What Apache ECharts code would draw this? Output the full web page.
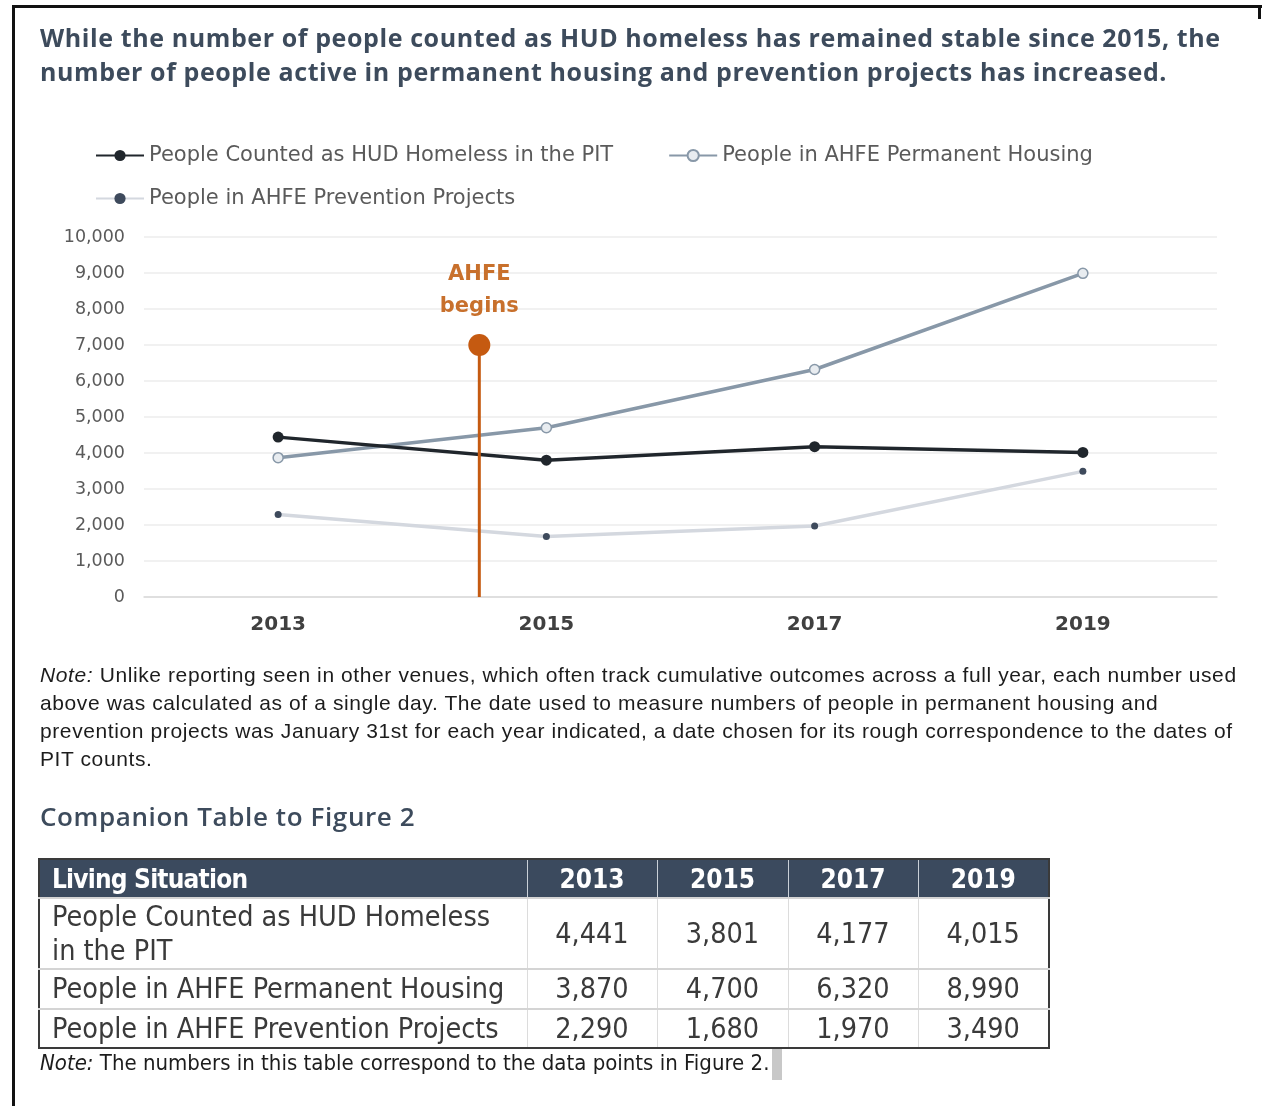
<!DOCTYPE html>
<html>
<head>
<meta charset="utf-8">
<script src="https://cdn.jsdelivr.net/npm/echarts@6/dist/echarts.min.js"></script>
<style>
  html, body { margin: 0; padding: 0; background: #ffffff; }
  #page { position: relative; width: 1262px; height: 1106px; overflow: hidden; }
  #chart { position: absolute; left: 0; top: 0; width: 1262px; height: 1106px; }
  .frame-top { position: absolute; left: 12px; top: 5px; width: 1250px; height: 3px; background: #111; }
  .frame-left { position: absolute; left: 12px; top: 5px; width: 3px; height: 1101px; background: #111; }
  .frame-right { position: absolute; left: 1258px; top: 5px; width: 3px; height: 14px; background: #111; }
  .title { position: absolute; left: 40px; top: 20px; font-family: "Open Sans", sans-serif; font-weight: 700;
    font-size: 25px; letter-spacing: 0.6px; line-height: 34px; color: #3d4b5c; white-space: nowrap; }
  .note { position: absolute; left: 40px; top: 661px; font-family: "Liberation Sans", Arial, sans-serif;
    font-size: 21px; letter-spacing: 0.6px; line-height: 28px; color: #1c1c1c; white-space: nowrap; }
  .subhead { position: absolute; left: 40px; top: 799px; font-family: "Open Sans", sans-serif; font-weight: 600;
    font-size: 26px; letter-spacing: 0.6px; line-height: 34px; color: #3d4b5c; white-space: nowrap; }
  table { position: absolute; left: 38px; top: 858px; width: 1010px; table-layout: fixed; border-collapse: collapse;
    border: 2px solid #3a3a3a; font-family: "DejaVu Sans Condensed", "DejaVu Sans", sans-serif; }
  th { background: #3b4a5e; color: #ffffff; font-weight: 700; font-size: 26px; height: 39px; padding: 0;
    border-left: 1px solid #c9d0d8; box-sizing: border-box; }
  th:first-child { text-align: left; padding-left: 12px; border-left: none; letter-spacing: -0.8px; }
  td { font-size: 28.5px; color: #3a3a3a; text-align: center; padding: 0; border-left: 1px solid #dcdcdc;
    border-top: 2px solid #d4d4d4; line-height: 34px; }
  td:first-child { text-align: left; padding-left: 12px; border-left: none; }
  .tnote { position: absolute; left: 40px; top: 1049px; font-family: "Liberation Sans Narrow", "DejaVu Sans Condensed", sans-serif;
    font-size: 22px; line-height: 28px; color: #1c1c1c; white-space: nowrap; }
  .cursor { position: absolute; left: 772px; top: 1049px; width: 10px; height: 31px; background: #c8c8c8; }
</style>
</head>
<body>
<div id="page">
  <div id="chart"></div>
  <div class="frame-top"></div>
  <div class="frame-left"></div>
  <div class="frame-right"></div>
  <div class="title">While the number of people counted as HUD homeless has remained stable since 2015, the<br>number of people active in permanent housing and prevention projects has increased.</div>
  <div class="note"><i>Note:</i> Unlike reporting seen in other venues, which often track cumulative outcomes across a full year, each number used<br>above was calculated as of a single day. The date used to measure numbers of people in permanent housing and<br>prevention projects was January 31st for each year indicated, a date chosen for its rough correspondence to the dates of<br>PIT counts.</div>
  <div class="subhead">Companion Table to Figure 2</div>
  <table id="tbl"></table>
  <div class="tnote"><i>Note:</i> The numbers in this table correspond to the data points in Figure 2.</div>
  <div class="cursor"></div>
</div>

<script>
// data
const years = ['2013', '2015', '2017', '2019']
const seriesNames = [
  'People Counted as HUD Homeless in the PIT',
  'People in AHFE Permanent Housing',
  'People in AHFE Prevention Projects'
]
const homelessPit = [4441, 3801, 4177, 4015]
const permanentHousing = [3870, 4700, 6320, 8990]
const preventionProjects = [2290, 1680, 1970, 3490]
// AHFE start: position between categories (index units) and height of the marker
const ahfeStart = [0.75, 7000]
const tableRowLabels = ['People Counted as HUD Homeless<br>in the PIT', 'People in AHFE Permanent Housing', 'People in AHFE Prevention Projects']

// companion table
const fmt = v => v.toLocaleString('en-US')
const rows = [homelessPit, permanentHousing, preventionProjects]
const colW = [488, 130, 131, 130, 131]
const rowH = [71, 40, 39]
let html = '<tr>' + ['Living Situation'].concat(years).map((t, i) => '<th style="width:' + colW[i] + 'px">' + t + '</th>').join('') + '</tr>'
rows.forEach((r, i) => {
  html += '<tr style="height:' + rowH[i] + 'px"><td>' + tableRowLabels[i] + '</td>' + r.map(v => '<td>' + fmt(v) + '</td>').join('') + '</tr>'
})
document.getElementById('tbl').innerHTML = html

const chart = echarts.init(document.getElementById('chart'))
const legendText = { fontFamily: 'DejaVu Sans', fontSize: 21, color: '#5a5a5a' }
chart.setOption({
  animation: false,
  legend: [{
    data: [seriesNames[0], seriesNames[1]],
    left: 90,
    top: 140,
    itemWidth: 48,
    itemHeight: 14,
    itemGap: 55,
    textStyle: legendText
  }, {
    data: [seriesNames[2]],
    left: 90,
    top: 183,
    itemWidth: 48,
    itemHeight: 14,
    textStyle: legendText
  }],
  grid: {
    left: 144,
    right: 45,
    top: 237,
    bottom: 509
  },
  xAxis: [{
    type: 'category',
    data: years,
    axisTick: { show: false },
    axisLine: { lineStyle: { color: '#d9d9d9', width: 1.5 } },
    axisLabel: {
      margin: 18,
      fontFamily: 'DejaVu Sans',
      fontWeight: 'bold',
      fontSize: 20,
      color: '#404040'
    }
  }, {
    type: 'value',
    min: -0.5,
    max: 3.5,
    show: false
  }],
  yAxis: {
    type: 'value',
    min: 0,
    max: 10000,
    interval: 1000,
    axisLine: { show: false },
    axisTick: { show: false },
    axisLabel: {
      margin: 19,
      fontFamily: 'DejaVu Sans',
      fontSize: 17.5,
      color: '#5a5a5a',
      formatter: v => fmt(v)
    },
    splitLine: { lineStyle: { color: '#ececec', width: 1.5 } }
  },
  series: [{
    name: seriesNames[0],
    type: 'line',
    data: homelessPit,
    symbol: 'circle',
    symbolSize: 11,
    z: 4,
    lineStyle: { color: '#20262c', width: 3.5 },
    itemStyle: { color: '#20262c' }
  }, {
    name: seriesNames[1],
    type: 'line',
    data: permanentHousing,
    symbol: 'circle',
    symbolSize: 10,
    z: 3,
    lineStyle: { color: '#8898a8', width: 3.5 },
    itemStyle: { color: '#e8ecf0', borderColor: '#8898a8', borderWidth: 1.5 }
  }, {
    name: seriesNames[2],
    type: 'line',
    data: preventionProjects,
    symbol: 'circle',
    symbolSize: 7,
    z: 2,
    lineStyle: { color: '#d4d8df', width: 3.5 },
    itemStyle: { color: '#3e4a5c' }
  }, {
    name: 'AHFE begins',
    type: 'line',
    xAxisIndex: 1,
    z: 5,
    data: [
      { value: [ahfeStart[0], 0], symbol: 'none' },
      {
        value: [ahfeStart[0], ahfeStart[1]],
        symbol: 'circle',
        symbolSize: 22,
        label: {
          show: true,
          position: 'top',
          distance: 11,
          formatter: 'AHFE\nbegins',
          fontFamily: 'DejaVu Sans',
          fontWeight: 'bold',
          fontSize: 21,
          lineHeight: 32,
          color: '#c8702c'
        }
      }
    ],
    lineStyle: { color: '#c55a11', width: 3 },
    itemStyle: { color: '#c55a11' }
  }]
})
</script>
</body>
</html>
